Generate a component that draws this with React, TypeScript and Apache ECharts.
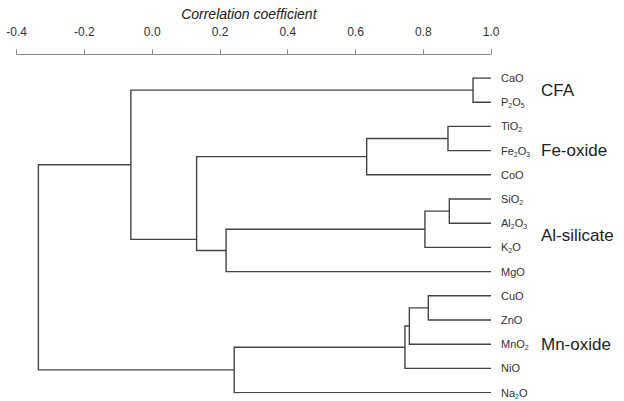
import React, { useEffect, useRef } from "react";
import * as echarts from "echarts";

// Leaves (top to bottom)
const leafLabels = ["CaO", "P2O5", "TiO2", "Fe2O3", "CoO", "SiO2", "Al2O3", "K2O", "MgO", "CuO", "ZnO", "MnO2", "NiO", "Na2O"];
const leafCorr = 1.0;

// Merges: node ids 14.. in this order; children refer to leaf index (<14) or node id
const mergeA = [0, 2, 15, 5, 17, 18, 16, 14, 9, 22, 23, 24, 21];
const mergeB = [1, 3, 4, 6, 7, 8, 19, 20, 10, 11, 12, 13, 25];
const mergeCorr = [0.947, 0.873, 0.633, 0.877, 0.805, 0.218, 0.131, -0.063, 0.815, 0.759, 0.746, 0.242, -0.336];
// position (in leaf units) of a node's connector when it is not the midpoint
const mergeYOverride: (number | null)[] = [null, null, null, null, null, null, 6.67, null, null, null, null, null, null];

// Group labels and their position in leaf units
const groupLabels = ["CFA", "Fe-oxide", "Al-silicate", "Mn-oxide"];
const groupPos = [0.5, 3, 6.5, 11];

const xTicksMin = -0.4;
const xTicksMax = 1.0;
const xTickStep = 0.2;

const FONT = "'Liberation Sans', Arial, sans-serif";

function buildSegments() {
  const n = leafLabels.length;
  const ys: number[] = leafLabels.map((_, i) => i);
  const xs: number[] = leafLabels.map(() => leafCorr);
  const segs: { coords: number[][] }[] = [];
  for (let k = 0; k < mergeA.length; k++) {
    const a = mergeA[k];
    const b = mergeB[k];
    const r = mergeCorr[k];
    const ya = ys[a];
    const yb = ys[b];
    segs.push({ coords: [[xs[a], ya], [r, ya], [r, yb], [xs[b], yb]] });
    const ov = mergeYOverride[k];
    ys[n + k] = ov == null ? (ya + yb) / 2 : ov;
    xs[n + k] = r;
  }
  return segs;
}

function richLabel(name: string) {
  const parts = name.match(/\d+|\D+/g) || [];
  return parts.map((p) => (/\d/.test(p) ? `{s|${p}}` : `{n|${p}}`)).join("");
}

export default function App() {
  const ref = useRef<HTMLDivElement>(null);
  useEffect(() => {
    if (!ref.current) return;
    const chart = echarts.init(ref.current, undefined, { renderer: "svg" });
    const segs = buildSegments();
    const option: any = {
      animation: false,
      backgroundColor: "#ffffff",
      grid: { left: 16.7, right: 133, top: 78, bottom: 8.4, outerBoundsMode: "none", containLabel: false },
      xAxis: {
        type: "value",
        position: "top",
        min: xTicksMin,
        max: xTicksMax,
        interval: xTickStep,
        offset: 23.7,
        name: "Correlation coefficient",
        nameLocation: "middle",
        nameGap: 31,
        nameTextStyle: { fontStyle: "italic", fontSize: 14, color: "#222", fontFamily: FONT, padding: [0, 10, 0, 0] },
        axisLine: { show: true, onZero: false, lineStyle: { color: "#8a8a8a", width: 1 } },
        axisTick: { show: true, length: 5, lineStyle: { color: "#8a8a8a", width: 1 } },
        axisLabel: {
          margin: 16,
          fontSize: 12,
          color: "#333",
          fontFamily: FONT,
          formatter: (v: number) => v.toFixed(1),
        },
        splitLine: { show: false },
      },
      yAxis: [
        {
          type: "value",
          min: 0,
          max: leafLabels.length - 1,
          interval: 1,
          inverse: true,
          position: "right",
          axisLine: { show: false, onZero: false },
          axisTick: { show: false },
          splitLine: { show: false },
          axisLabel: {
            margin: 10,
            color: "#333",
            fontFamily: FONT,
            formatter: (v: number) => {
              const i = Math.round(v);
              return leafLabels[i] ? richLabel(leafLabels[i]) : "";
            },
            rich: {
              n: { fontSize: 11, lineHeight: 14, fontFamily: FONT, color: "#333" },
              s: { fontSize: 7, lineHeight: 7, verticalAlign: "bottom", fontFamily: FONT, color: "#333" },
            },
          },
        },
        {
          type: "value",
          min: 0,
          max: leafLabels.length - 1,
          interval: 0.5,
          inverse: true,
          position: "right",
          axisLine: { show: false, onZero: false },
          axisTick: { show: false },
          splitLine: { show: false },
          axisLabel: {
            margin: 50,
            fontSize: 17,
            color: "#222",
            fontFamily: FONT,
            formatter: (v: number) => {
              const idx = groupPos.findIndex((p) => Math.abs(p - v) < 1e-6);
              return idx >= 0 ? groupLabels[idx] : "";
            },
          },
        },
      ],
      series: [
        {
          type: "lines",
          coordinateSystem: "cartesian2d",
          xAxisIndex: 0,
          yAxisIndex: 0,
          polyline: true,
          silent: true,
          lineStyle: { color: "#444", width: 1.4, opacity: 1 },
          data: segs,
        },
      ],
    };
    chart.setOption(option);
    return () => chart.dispose();
  }, []);
  return (
    <div
      ref={ref}
      style={{ position: "fixed", left: 0, top: 0, width: 624, height: 401 }}
    />
  );
}
